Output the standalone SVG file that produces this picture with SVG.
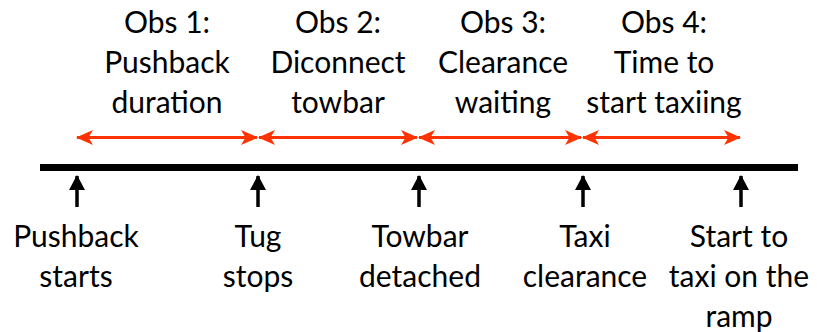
<svg xmlns="http://www.w3.org/2000/svg" width="817" height="332" viewBox="0 0 817 332">
  <style>
    text { font-family: Lato, "Open Sans", "Liberation Sans", sans-serif; font-size: 30px; fill: #000; text-anchor: middle; }
    .span { stroke: #ff3300; stroke-width: 3; fill: none; marker-start: url(#redHead); marker-end: url(#redHead); }
    .tick { stroke: #000; stroke-width: 3.5; fill: none; marker-end: url(#blackHead); }
  </style>
  <defs>
    <marker id="redHead" viewBox="0 0 17 17" refX="16" refY="8.5" markerWidth="17" markerHeight="17" markerUnits="userSpaceOnUse" orient="auto-start-reverse">
      <path d="M0,1 L17,8.5 L0,16 L4.5,8.5 Z" fill="#ff3300"/>
    </marker>
    <marker id="blackHead" viewBox="0 0 15 16" refX="14" refY="8" markerWidth="15" markerHeight="16" markerUnits="userSpaceOnUse" orient="auto">
      <path d="M0,0 L15,8 L0,16 Z" fill="#000"/>
    </marker>
  </defs>

  <!-- timeline -->
  <g id="timeline">
    <line x1="40" y1="167.5" x2="798" y2="167.5" stroke="#000" stroke-width="7"/>
  </g>

  <!-- observation spans and event ticks -->
  <g id="connectors">
    <line class="span" x1="77" y1="137.5" x2="257" y2="137.5"/>
    <line class="span" x1="259" y1="137.5" x2="417" y2="137.5"/>
    <line class="span" x1="419" y1="137.5" x2="581" y2="137.5"/>
    <line class="span" x1="583" y1="137.5" x2="740" y2="137.5"/>
    <line class="tick" x1="77" y1="207" x2="77" y2="176"/>
    <line class="tick" x1="258" y1="207" x2="258" y2="176"/>
    <line class="tick" x1="419" y1="207" x2="419" y2="176"/>
    <line class="tick" x1="583" y1="207" x2="583" y2="176"/>
    <line class="tick" x1="741" y1="207" x2="741" y2="176"/>
  </g>

  <!-- observation labels -->
  <g id="obs1"><text x="167" y="33">Obs 1:</text><text x="167" y="73">Pushback</text><text x="167" y="113">duration</text></g>
  <g id="obs2"><text x="338" y="33">Obs 2:</text><text x="338" y="73">Diconnect</text><text x="338" y="113">towbar</text></g>
  <g id="obs3"><text x="503" y="33">Obs 3:</text><text x="503" y="73">Clearance</text><text x="503" y="113">waiting</text></g>
  <g id="obs4"><text x="664" y="33">Obs 4:</text><text x="664" y="73">Time to</text><text x="664" y="113">start taxiing</text></g>

  <!-- event labels -->
  <g id="ev1"><text x="76" y="247">Pushback</text><text x="76" y="287">starts</text></g>
  <g id="ev2"><text x="258" y="247">Tug</text><text x="258" y="287">stops</text></g>
  <g id="ev3"><text x="420" y="247">Towbar</text><text x="420" y="287">detached</text></g>
  <g id="ev4"><text x="585" y="247">Taxi</text><text x="585" y="287">clearance</text></g>
  <g id="ev5"><text x="739" y="247">Start to</text><text x="739" y="287">taxi on the</text><text x="739" y="327">ramp</text></g>
</svg>
